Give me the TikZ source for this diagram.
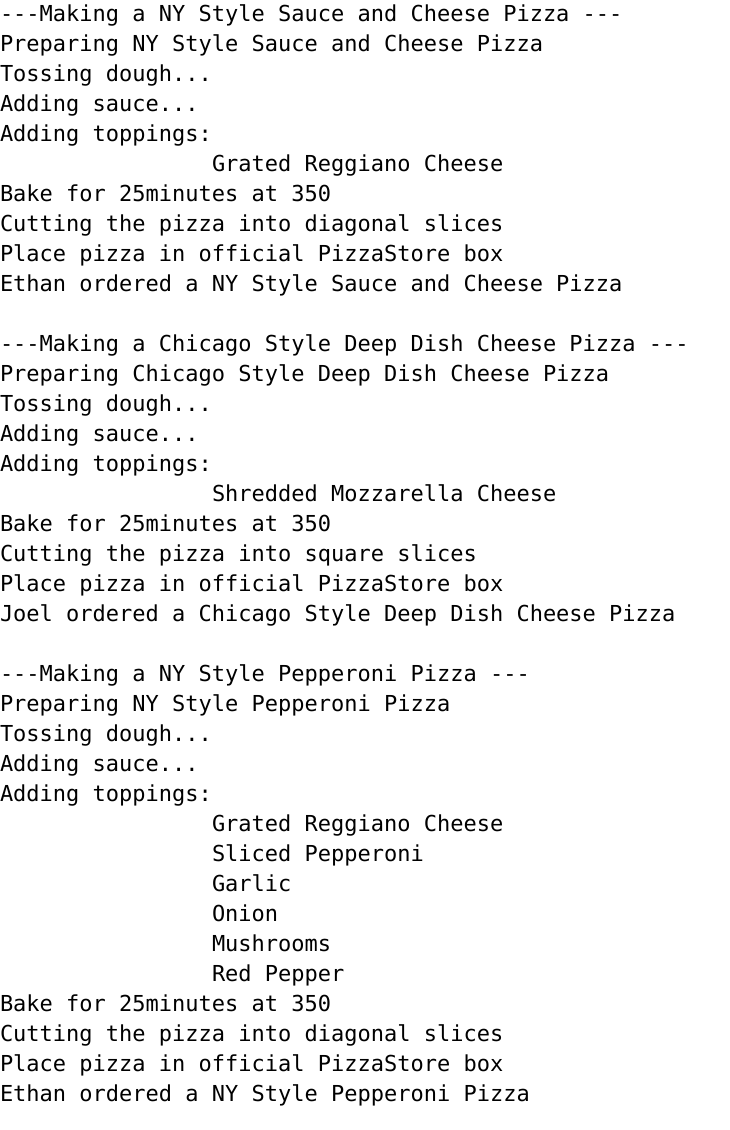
\documentclass[tikz,border=0pt]{standalone}
\usepackage{fontspec}
\setmonofont{DejaVu Sans Mono}
\begin{document}
\begin{tikzpicture}[x=1pt,y=1pt,
  ln/.style={anchor=base west,inner sep=0pt,outer sep=0pt,font=\ttfamily\fontsize{22}{30}\selectfont,text=black}]
\useasboundingbox[fill=white] (0,0) rectangle (730,-1130);
\def\ind{212}
% block 1
\node[ln] (l1)  at (0,-21) {---Making a NY Style Sauce and Cheese Pizza ---};
\node[ln] (l2)  at (0,-51) {Preparing NY Style Sauce and Cheese Pizza};
\node[ln] (l3)  at (0,-81) {Tossing dough...};
\node[ln] (l4)  at (0,-111) {Adding sauce...};
\node[ln] (l5)  at (0,-141) {Adding toppings:};
\node[ln] (l6)  at (\ind,-171) {Grated Reggiano Cheese};
\node[ln] (l7)  at (0,-201) {Bake for 25minutes at 350};
\node[ln] (l8)  at (0,-231) {Cutting the pizza into diagonal slices};
\node[ln] (l9)  at (0,-261) {Place pizza in official PizzaStore box};
\node[ln] (l10) at (0,-291) {Ethan ordered a NY Style Sauce and Cheese Pizza};
% block 2
\node[ln] (l12) at (0,-351) {---Making a Chicago Style Deep Dish Cheese Pizza ---};
\node[ln] (l13) at (0,-381) {Preparing Chicago Style Deep Dish Cheese Pizza};
\node[ln] (l14) at (0,-411) {Tossing dough...};
\node[ln] (l15) at (0,-441) {Adding sauce...};
\node[ln] (l16) at (0,-471) {Adding toppings:};
\node[ln] (l17) at (\ind,-501) {Shredded Mozzarella Cheese};
\node[ln] (l18) at (0,-531) {Bake for 25minutes at 350};
\node[ln] (l19) at (0,-561) {Cutting the pizza into square slices};
\node[ln] (l20) at (0,-591) {Place pizza in official PizzaStore box};
\node[ln] (l21) at (0,-621) {Joel ordered a Chicago Style Deep Dish Cheese Pizza};
% block 3
\node[ln] (l23) at (0,-681) {---Making a NY Style Pepperoni Pizza ---};
\node[ln] (l24) at (0,-711) {Preparing NY Style Pepperoni Pizza};
\node[ln] (l25) at (0,-741) {Tossing dough...};
\node[ln] (l26) at (0,-771) {Adding sauce...};
\node[ln] (l27) at (0,-801) {Adding toppings:};
\node[ln] (l28) at (\ind,-831) {Grated Reggiano Cheese};
\node[ln] (l29) at (\ind,-861) {Sliced Pepperoni};
\node[ln] (l30) at (\ind,-891) {Garlic};
\node[ln] (l31) at (\ind,-921) {Onion};
\node[ln] (l32) at (\ind,-951) {Mushrooms};
\node[ln] (l33) at (\ind,-981) {Red Pepper};
\node[ln] (l34) at (0,-1011) {Bake for 25minutes at 350};
\node[ln] (l35) at (0,-1041) {Cutting the pizza into diagonal slices};
\node[ln] (l36) at (0,-1071) {Place pizza in official PizzaStore box};
\node[ln] (l37) at (0,-1101) {Ethan ordered a NY Style Pepperoni Pizza};
\end{tikzpicture}
\end{document}
